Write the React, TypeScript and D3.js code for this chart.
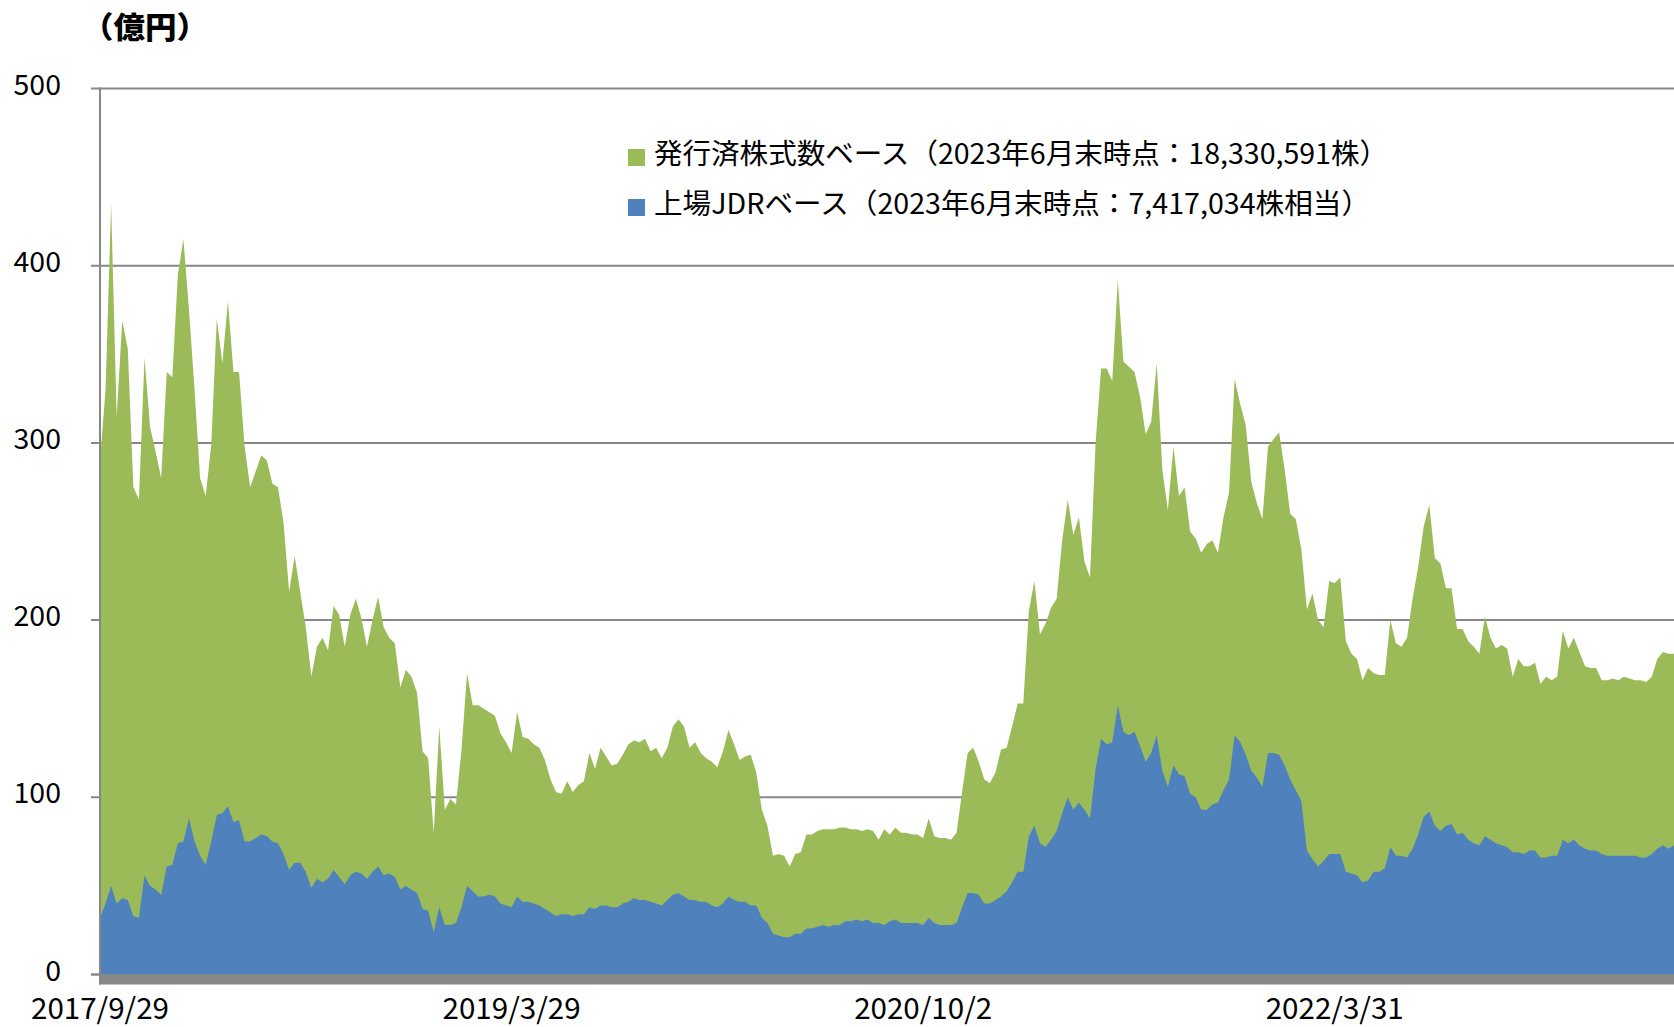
import React from "react";
import * as d3 from "d3";

// Weekly samples (every 5 trading days) from 2017/9/29 to 2023/6/30, 億円
const totalValues: number[] = [
  290,330,435,315,369,353,275,268,348,309, 295,280,340,337,395,415,375,330,280,270,
  299,370,345,380,340,340,298,275,284,293, 290,277,275,255,216,236,216,196,168,185,
  190,183,208,203,185,203,212,
  201,185,200,213,196,190,187,162,172,168, 159,126,122,80,140,93,99,96,127,170,
  152,152,150,148,146,136,131,125,148,134, 133,130,128,121,110,103,102,109,103,107,
  109,125,116,128,123,118,119,
  124,130,132,131,133,126,128,122,128,140, 144,140,128,131,125,122,120,117,126,138,
  130,121,123,124,114,93,84,67,68,67, 61,68,69,79,79,81,82,82,82,83,
  83,82,82,81,82,81,76,
  82,79,83,80,80,79,79,77,88,78, 77,77,76,80,103,125,128,120,110,108,
  114,127,128,140,153,153,205,222,192,198, 207,212,245,268,248,258,233,224,300,342,
  342,335,392,346,343,340,326,
  305,312,345,285,262,298,270,275,250,246, 238,243,245,238,258,272,336,322,310,278,
  266,257,298,302,306,285,260,257,240,206, 215,200,196,222,221,224,188,181,178,166,
  173,170,169,169,200,187,185,
  190,212,230,253,265,235,232,218,218,195, 195,188,185,181,202,190,184,186,184,168,
  178,174,174,176,164,168,166,168,194,184, 190,182,174,173,173,166,166,167,166,168,
  167,166,166,165,168,178,182,181,181
];

const jdrValues: number[] = [
  32,40,50,40,43,42,33,32,56,50, 48,45,61,62,74,75,88,75,67,62,
  75,90,91,95,86,87,75,75,77,79, 78,75,74,68,59,63,63,58,49,54,
  52,54,59,55,51,56,58,
  57,54,58,61,56,57,55,48,50,48, 46,37,36,24,38,28,28,29,38,50,
  47,44,44,45,44,40,39,38,44,41, 41,40,39,37,35,33,34,34,33,34,
  34,38,37,39,39,38,38,
  40,41,43,42,42,41,40,39,42,45, 46,44,42,42,41,41,39,38,40,44,
  42,41,41,39,39,32,29,23,22,21, 21,23,23,26,26,27,28,27,28,28,
  30,30,31,30,31,29,29,
  28,30,31,29,29,29,29,28,32,29, 28,28,28,29,38,46,46,45,40,40,
  42,44,47,52,58,58,78,84,74,72, 76,81,91,100,93,97,93,88,116,133,
  130,131,152,137,135,137,129,
  120,125,135,115,106,118,113,112,102,100, 93,93,96,97,104,110,135,131,124,115,
  111,106,125,125,124,118,110,104,98,70, 65,61,64,68,68,68,58,57,56,52,
  53,58,58,60,72,67,67,
  66,71,79,89,92,84,81,84,85,79, 80,76,74,73,78,76,74,73,72,69,
  69,68,70,70,66,66,67,67,76,74, 76,73,71,70,70,68,67,67,67,67,
  67,67,66,66,68,71,73,71,73
];

const xTickLabels: string[] = ["2017/9/29", "2019/3/29", "2020/10/2", "2022/3/31"];
const xTickIndex: number[] = [0, 74, 148, 222];
const yTicks: number[] = [0, 100, 200, 300, 400, 500];

const seriesNames: string[] = [
  "発行済株式数ベース（2023年6月末時点：18,330,591株）",
  "上場JDRベース（2023年6月末時点：7,417,034株相当）",
];

const W = 1674;
const H = 1027;
const FONT = "'Noto Sans CJK JP', 'Noto Sans', sans-serif";
const GREEN = "#9BBB59";
const BLUE = "#4F81BD";
const GRAY = "#878787";

export default function App() {
  const left = 100;
  const right = 1674;
  const x = d3.scaleLinear().domain([0, totalValues.length - 1]).range([left, right]);
  const y = d3.scaleLinear().domain([0, 500]).range([974.5, 88.5]);

  const area = d3
    .area<number>()
    .x((_, i) => x(i))
    .y0(y(0))
    .y1((d) => y(d))
    .curve(d3.curveLinear);

  return (
    <div style={{ position: "absolute", left: 0, top: 0 }}>
      <svg width={W} height={H} style={{ display: "block", background: "#fff" }}>
        {/* gridlines */}
        {yTicks.map((v) => (
          <line key={"g" + v} x1={91} x2={right} y1={y(v)} y2={y(v)} stroke={GRAY} strokeWidth={2} />
        ))}
        <path d={area(totalValues) || ""} fill={GREEN} />
        <path d={area(jdrValues) || ""} fill={BLUE} />
        {/* bottom band (axis floor) */}
        <rect x={99} y={y(0)} width={right - 99} height={10} fill={GRAY} />
        <line x1={91} x2={100} y1={y(0)} y2={y(0)} stroke={GRAY} strokeWidth={2} />
        {/* vertical axis */}
        <line x1={100} x2={100} y1={y(500) - 1} y2={y(0) + 10} stroke={GRAY} strokeWidth={2} />
        {/* y labels */}
        {yTicks.map((v) => (
          <text key={"t" + v} x={61} y={y(v) + 6} textAnchor="end" fontSize={28.5} fontFamily={FONT} fill="#000">
            {v}
          </text>
        ))}
        {/* x labels */}
        {xTickIndex.map((idx, k) => (
          <text
            key={"x" + k}
            x={x(idx)}
            y={1019}
            textAnchor="middle"
            fontSize={29}
            fontFamily={FONT}
            fill="#000"
            textLength={138}
            lengthAdjust="spacingAndGlyphs"
          >
            {xTickLabels[k]}
          </text>
        ))}
        {/* unit */}
        <text
          x={82}
          y={38}
          fontSize={30}
          fontWeight={900}
          fontFamily={FONT}
          fill="#000"
          textLength={126}
          lengthAdjust="spacingAndGlyphs"
        >
          （億円）
        </text>
        {/* legend */}
        <rect x={628} y={149} width={17} height={17} fill={GREEN} />
        <text x={654} y={164} fontSize={28} fontFamily={FONT} fill="#000" textLength={734} lengthAdjust="spacingAndGlyphs">
          {seriesNames[0]}
        </text>
        <rect x={628} y={199} width={17} height={17} fill={BLUE} />
        <text x={654} y={214} fontSize={28} fontFamily={FONT} fill="#000" textLength={716} lengthAdjust="spacingAndGlyphs">
          {seriesNames[1]}
        </text>
      </svg>
    </div>
  );
}
